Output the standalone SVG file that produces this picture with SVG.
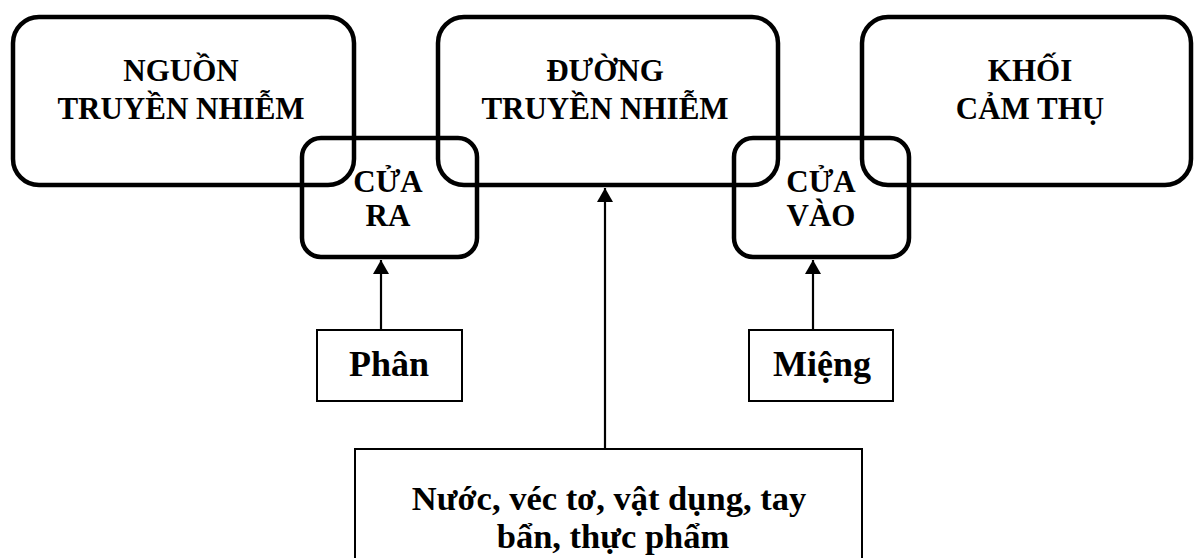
<svg xmlns="http://www.w3.org/2000/svg" width="1194" height="558" viewBox="0 0 1194 558">
<style>
.big{fill:none;stroke:#000;stroke-width:4.5}
.box{fill:none;stroke:#000;stroke-width:2}
.t{font-family:"Liberation Serif","Times New Roman",serif;font-weight:bold;fill:#000;text-anchor:middle}
.t31{font-size:31px}
.t36{font-size:36px}
.t34{font-size:34.5px}
.conn{stroke:#000;stroke-width:2.2;fill:none}
</style>
<defs>
<marker id="ah" viewBox="0 0 14 16" refX="14" refY="8" markerWidth="14" markerHeight="16" markerUnits="userSpaceOnUse" orient="auto">
<path d="M0,0 L14,8 L0,16 Z" fill="#000"/>
</marker>
</defs>
<rect width="1194" height="558" fill="#fff"/>
<g id="nguon">
<rect class="big" x="13" y="17" width="341" height="168" rx="26"/>
<text class="t t31" x="181" y="81">NGUỒN</text>
<text class="t t31" x="181" y="119">TRUYỀN NHIỄM</text>
</g>
<g id="duong">
<rect class="big" x="438" y="17" width="340" height="168" rx="26"/>
<text class="t t31" x="605" y="81">ĐƯỜNG</text>
<text class="t t31" x="605" y="119">TRUYỀN NHIỄM</text>
</g>
<g id="khoi">
<rect class="big" x="862" y="17" width="329" height="168" rx="26"/>
<text class="t t31" x="1030" y="81">KHỐI</text>
<text class="t t31" x="1030" y="119">CẢM THỤ</text>
</g>
<g id="cuara">
<rect class="big" x="302" y="138" width="175" height="119" rx="19"/>
<text class="t t31" x="388" y="192">CỬA</text>
<text class="t t31" x="388" y="226">RA</text>
</g>
<g id="cuavao">
<rect class="big" x="734" y="138" width="175" height="119" rx="19"/>
<text class="t t31" x="821" y="192">CỬA</text>
<text class="t t31" x="821" y="226">VÀO</text>
</g>
<g id="phan">
<rect class="box" x="317" y="330" width="145" height="71"/>
<text class="t t36" x="389" y="376">Phân</text>
</g>
<g id="mieng">
<rect class="box" x="749" y="330" width="144" height="71"/>
<text class="t t36" x="822" y="376">Miệng</text>
</g>
<g id="nuoc">
<rect class="box" x="355" y="449" width="507" height="120"/>
<text class="t t34" x="609" y="510">Nước, véc tơ, vật dụng, tay</text>
<text class="t t34" x="613" y="548">bẩn, thực phẩm</text>
</g>
<g id="connectors">
<line class="conn" x1="381" y1="330" x2="381" y2="260" marker-end="url(#ah)"/>
<line class="conn" x1="813" y1="330" x2="813" y2="260" marker-end="url(#ah)"/>
<line class="conn" x1="605" y1="449" x2="605" y2="188" marker-end="url(#ah)"/>
</g>
</svg>
